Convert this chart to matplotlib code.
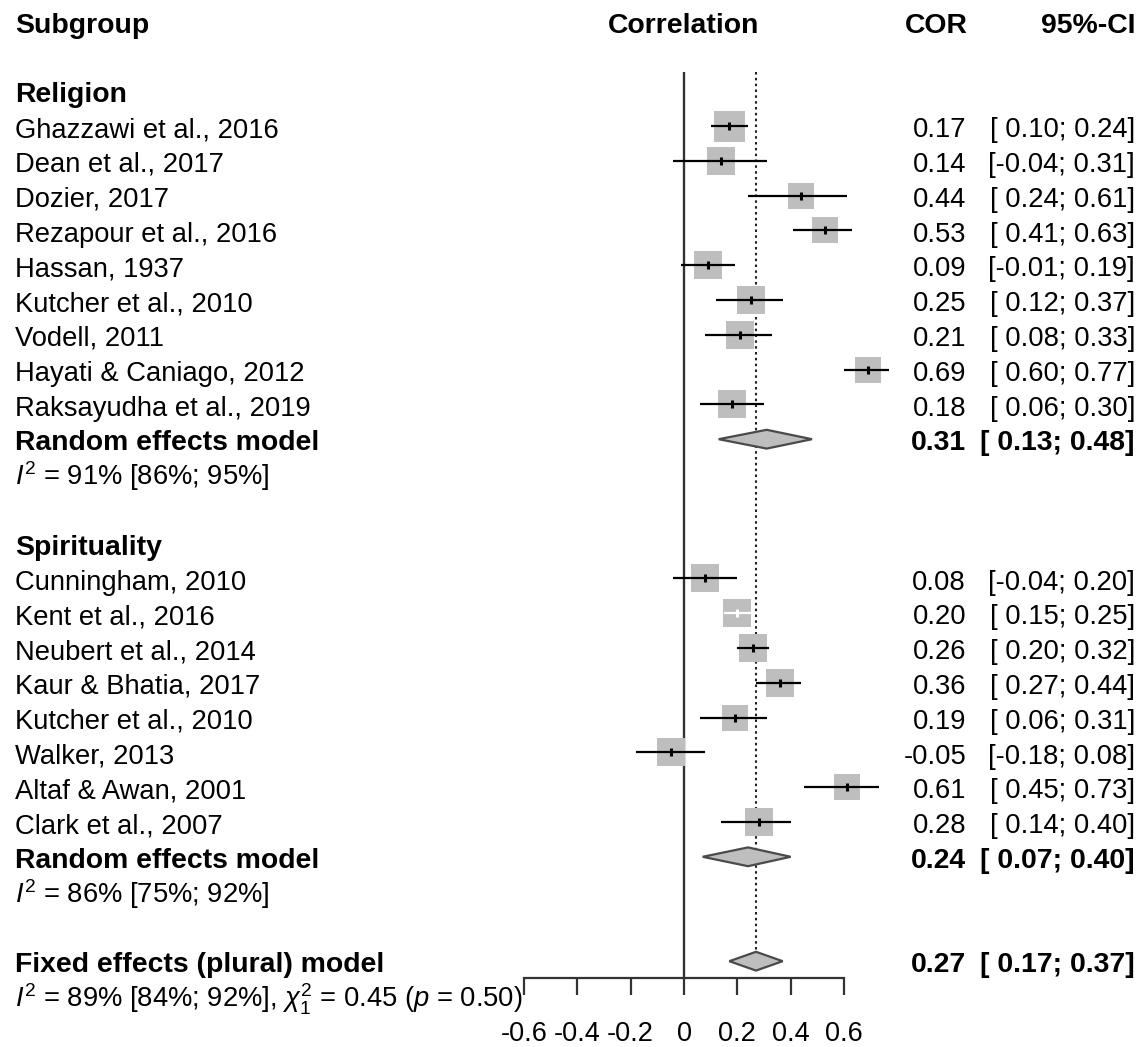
import matplotlib
matplotlib.use("Agg")
import matplotlib.pyplot as plt
from matplotlib.transforms import blended_transform_factory

plt.rcParams['font.family'] = ['Liberation Sans', 'DejaVu Sans']
plt.rcParams['mathtext.fontset'] = 'custom'
plt.rcParams['mathtext.rm'] = 'Liberation Sans'
plt.rcParams['mathtext.it'] = 'Liberation Sans:italic'

# Daten
rel_names = ["Ghazzawi et al., 2016", "Dean et al., 2017", "Dozier, 2017",
             "Rezapour et al., 2016", "Hassan, 1937", "Kutcher et al., 2010",
             "Vodell, 2011", "Hayati & Caniago, 2012", "Raksayudha et al., 2019"]
rel_cor = [0.17, 0.14, 0.44, 0.53, 0.09, 0.25, 0.21, 0.69, 0.18]
rel_lo = [0.10, -0.04, 0.24, 0.41, -0.01, 0.12, 0.08, 0.60, 0.06]
rel_hi = [0.24, 0.31, 0.61, 0.63, 0.19, 0.37, 0.33, 0.77, 0.30]
rel_size = [31, 28, 27, 27, 28, 28, 28, 27, 28]

spi_names = ["Cunningham, 2010", "Kent et al., 2016", "Neubert et al., 2014",
             "Kaur & Bhatia, 2017", "Kutcher et al., 2010", "Walker, 2013",
             "Altaf & Awan, 2001", "Clark et al., 2007"]
spi_cor = [0.08, 0.20, 0.26, 0.36, 0.19, -0.05, 0.61, 0.28]
spi_lo = [-0.04, 0.15, 0.20, 0.27, 0.06, -0.18, 0.45, 0.14]
spi_hi = [0.20, 0.25, 0.32, 0.44, 0.31, 0.08, 0.73, 0.40]
spi_size = [28, 28, 28, 28, 27, 28, 26, 28]

rel_pooled = (0.31, 0.13, 0.48)
spi_pooled = (0.24, 0.07, 0.40)
fixed_pooled = (0.27, 0.17, 0.37)

rel_het = r"$I^2$ = 91% [86%; 95%]"
spi_het = r"$I^2$ = 86% [75%; 92%]"
all_het = r"$I^2$ = 89% [84%; 92%], $\chi^2_1$ = 0.45 ($p$ = 0.50)"

ticks = [-0.6, -0.4, -0.2, 0, 0.2, 0.4, 0.6]
tick_labels = ["-0.6", "-0.4", "-0.2", "0", "0.2", "0.4", "0.6"]

W, H = 1142, 1047
X0, XS = 684, 266.7      # Pixel von 0 und Pixel pro Einheit
Y0, YS = 21.6, 34.8      # Pixel von Zeile 0 und Zeilenabstand

fig = plt.figure(figsize=(W / 100, H / 100), dpi=100)
ax = fig.add_axes([0, 0, 1, 1])
ax.set_xlim(-X0 / XS, (W - X0) / XS)
ax.set_ylim((H - Y0) / YS, -Y0 / YS)
for s in ['top', 'left', 'right']:
    ax.spines[s].set_visible(False)
ax.set_yticks([])

tr = blended_transform_factory(ax.transAxes, ax.transData)
FS, FSB = 19.7, 20.4
BASE = 0.32
SQ = '#bebebe'


def txt(px, row, s, ha='left', bold=False):
    ax.text(px / W, row + BASE, s, transform=tr, ha=ha, va='baseline',
            fontsize=FSB if bold else FS,
            fontweight='bold' if bold else 'normal', color='black')


def values(row, est, lo, hi, bold=False):
    txt(966, row, f"{est:.2f}", ha='right', bold=bold)
    lo_s = f"{lo:.2f}" if lo < 0 else f" {lo:.2f}"
    txt(1135, row, f"[{lo_s}; {hi:.2f}]", ha='right', bold=bold)


def diamond(row, est, lo, hi):
    h = 0.27
    ax.fill([lo, est, hi, est], [row, row - h, row, row + h],
            facecolor=SQ, edgecolor='#4a4a4a', lw=1.6, zorder=4)


def studies(rows, names, cor, lo, hi, size):
    for r, n, c, l, h, sz in zip(rows, names, cor, lo, hi, size):
        txt(15, r, n)
        values(r, c, l, h)
        ax.scatter([c], [r], s=(sz * 0.72) ** 2, marker='s', color=SQ,
                   linewidths=0, zorder=2)
        col = 'white' if (h - l) * XS < sz else 'black'
        ax.hlines(r, l, h, color=col, lw=1.6, zorder=3)
        ax.plot([c], [r], marker='|', ms=6, mew=2.2, color=col, zorder=3)


# Kopfzeile
txt(15, 0, "Subgroup", bold=True)
ax.text(0, BASE, "Correlation", ha='center', va='baseline',
        fontsize=FSB, fontweight='bold')
txt(968, 0, "COR", ha='right', bold=True)
txt(1135, 0, "95%-CI", ha='right', bold=True)

# Religion
txt(15, 2, "Religion", bold=True)
rel_rows = list(range(3, 3 + len(rel_names)))
studies(rel_rows, rel_names, rel_cor, rel_lo, rel_hi, rel_size)
r = rel_rows[-1] + 1
txt(15, r, "Random effects model", bold=True)
values(r, *rel_pooled, bold=True)
diamond(r, *rel_pooled)
txt(15, r + 1, rel_het)

# Spiritualitaet
txt(15, r + 3, "Spirituality", bold=True)
spi_rows = list(range(r + 4, r + 4 + len(spi_names)))
studies(spi_rows, spi_names, spi_cor, spi_lo, spi_hi, spi_size)
r = spi_rows[-1] + 1
txt(15, r, "Random effects model", bold=True)
values(r, *spi_pooled, bold=True)
diamond(r, *spi_pooled)
txt(15, r + 1, spi_het)

# Gesamt
r_fix = r + 3
txt(15, r_fix, "Fixed effects (plural) model", bold=True)
values(r_fix, *fixed_pooled, bold=True)
diamond(r_fix, *fixed_pooled)
txt(15, r_fix + 1, all_het)

# Referenzlinien und Achse
axis_row = (978 - Y0) / YS
top_row = (72 - Y0) / YS
ax.vlines(0, top_row, axis_row, color='#333333', lw=1.7, zorder=1)
ax.vlines(fixed_pooled[0], top_row, r_fix, color='#222222', lw=1.5,
          linestyles=(0, (1.2, 1.6)), zorder=1)

ax.spines['bottom'].set_position(('data', axis_row))
ax.spines['bottom'].set_bounds(ticks[0], ticks[-1])
ax.spines['bottom'].set_color('#333333')
ax.spines['bottom'].set_linewidth(1.6)
ax.set_xticks(ticks)
ax.set_xticklabels(tick_labels)
ax.tick_params(axis='x', direction='out', length=12.2, width=1.6,
               color='#333333', pad=19, labelsize=19.5)

fig.savefig("out.png", dpi=100)
